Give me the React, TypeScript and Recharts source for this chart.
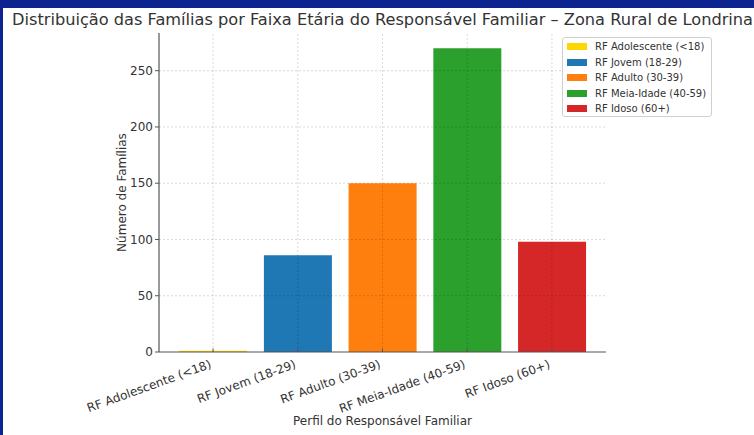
import React from 'react';
import { BarChart, Bar, XAxis, YAxis, ReferenceLine, Cell, Label } from 'recharts';

const categories = [
  'RF Adolescente (<18)',
  'RF Jovem (18-29)',
  'RF Adulto (30-39)',
  'RF Meia-Idade (40-59)',
  'RF Idoso (60+)',
];
const familyCounts = [1, 86, 150, 270, 98];
const barColors = ['#FFD700', '#1f77b4', '#ff7f0e', '#2ca02c', '#d62728'];
const yTicks = [0, 50, 100, 150, 200, 250];

const FONT = '"DejaVu Sans", sans-serif';
const TEXT = '#333333';
const AXIS = '#555555';
const GRID = 'rgba(0,0,0,0.15)';

const data = categories.map((c, i) => ({ category: c, value: familyCounts[i] }));

const XTick = (props: any) => {
  const { x, y, payload } = props;
  const tx = x - 1;
  const ty = y + 15.5;
  return (
    <g>
      <line x1={x} x2={x} y1={y - 3.5} y2={y} stroke={AXIS} strokeWidth={1} />
      <text
        x={tx}
        y={ty}
        transform={`rotate(-20, ${tx}, ${ty})`}
        textAnchor="end"
        fontSize={12}
        fill={TEXT}
        fontFamily={FONT}
      >
        {payload.value}
      </text>
    </g>
  );
};

const LegendBox = () => (
  <div
    style={{
      position: 'absolute',
      left: 562,
      top: 37,
      width: 150,
      height: 80,
      boxSizing: 'border-box',
      border: '1px solid #d0d0d0',
      borderRadius: 3,
      background: 'rgba(255,255,255,0.85)',
      fontFamily: FONT,
      fontSize: 10,
      color: TEXT,
    }}
  >
    {categories.map((c, i) => (
      <div key={c} style={{ display: 'flex', alignItems: 'center', height: 15.5, marginTop: i === 0 ? 1 : 0 }}>
        <span
          style={{
            display: 'inline-block',
            width: 20,
            height: 7,
            marginLeft: 4,
            marginRight: 8,
            background: barColors[i],
          }}
        />
        <span style={{ whiteSpace: 'nowrap' }}>{c}</span>
      </div>
    ))}
  </div>
);

export default function App() {
  return (
    <div style={{ position: 'absolute', left: 0, top: 0, width: 754, height: 435, background: '#0c2490', overflow: 'hidden' }}>
      <div style={{ position: 'absolute', left: 3, top: 8, right: 0, bottom: 0, background: '#ffffff' }} />
      <div
        style={{
          position: 'absolute',
          left: 0,
          top: 10,
          width: 765,
          textAlign: 'center',
          fontFamily: FONT,
          fontSize: 16.2,
          lineHeight: '19px',
          color: TEXT,
          whiteSpace: 'nowrap',
        }}
      >
        Distribuição das Famílias por Faixa Etária do Responsável Familiar – Zona Rural de Londrina
      </div>
      <div style={{ position: 'absolute', left: 0, top: 0 }}>
        <BarChart
          width={754}
          height={435}
          data={data}
          margin={{ top: 33, right: 148, bottom: 0, left: 0 }}
          barCategoryGap="10%"
        >
          <XAxis
            dataKey="category"
            height={83}
            interval={0}
            padding={{ left: 11.7, right: 11.7 }}
            tickSize={0}
            tickMargin={0}
            tickLine={false}
            axisLine={{ stroke: AXIS, strokeWidth: 1.2 }}
            tick={<XTick />}
          >
            <Label
              value="Perfil do Responsável Familiar"
              position="insideBottom"
              offset={10}
              style={{ fontFamily: FONT, fontSize: 12, fill: TEXT }}
            />
          </XAxis>
          <YAxis
            width={159}
            domain={[0, 283.5]}
            ticks={yTicks}
            allowDataOverflow
            tickSize={4}
            tickMargin={2}
            axisLine={{ stroke: AXIS, strokeWidth: 1.2 }}
            tickLine={{ stroke: AXIS }}
            tick={{ fontFamily: FONT, fontSize: 12, fill: TEXT }}
          >
            <Label
              content={(p: any) => {
                const vb = p.viewBox || { x: 0, y: 33, width: 159, height: 319 };
                const cx = vb.x + vb.width - 37;
                const cy = vb.y + vb.height / 2;
                return (
                  <text
                    x={cx}
                    y={cy}
                    transform={`rotate(-90, ${cx}, ${cy})`}
                    textAnchor="middle"
                    dominantBaseline="central"
                    fontFamily={FONT}
                    fontSize={12}
                    fill={TEXT}
                  >
                    Número de Famílias
                  </text>
                );
              }}
            />
          </YAxis>
          <Bar dataKey="value" isAnimationActive={false}>
            {data.map((d, i) => (
              <Cell key={d.category} fill={barColors[i]} />
            ))}
          </Bar>
          {yTicks.filter((t) => t > 0).map((t) => (
            <ReferenceLine key={`h${t}`} y={t} stroke={GRID} strokeDasharray="2 2" zIndex={900} />
          ))}
          {categories.map((c) => (
            <ReferenceLine key={`v${c}`} x={c} stroke={GRID} strokeDasharray="2 2" zIndex={900} />
          ))}
        </BarChart>
      </div>
      <LegendBox />
    </div>
  );
}
